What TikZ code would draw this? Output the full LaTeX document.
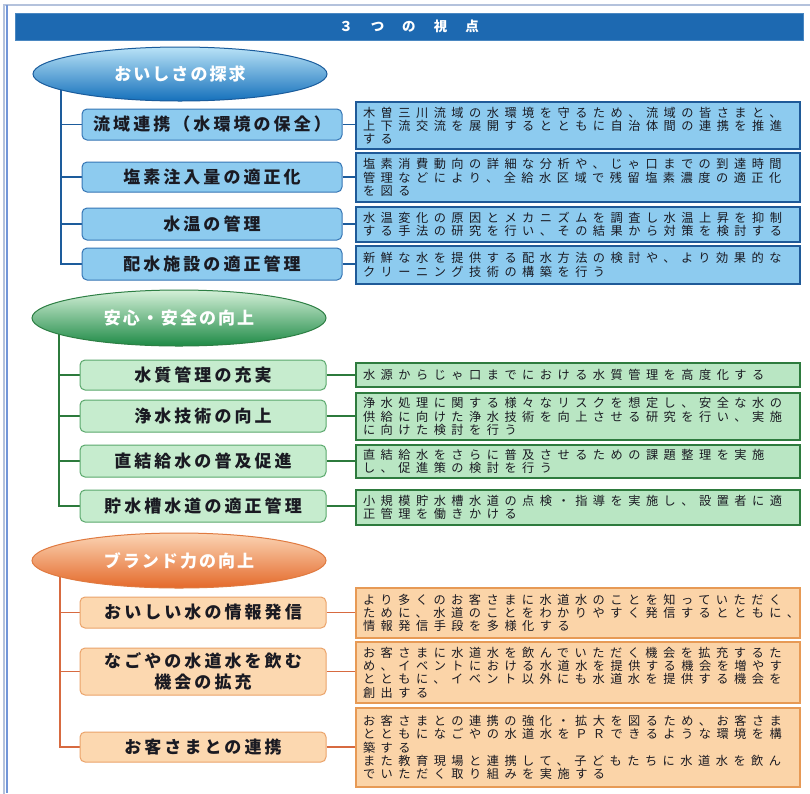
\documentclass[tikz,border=0pt]{standalone}
\usepackage{fontspec}
\usetikzlibrary{shapes.geometric}
\newfontfamily\jpR{Noto Sans CJK JP}[LetterSpace=45]
\newfontfamily\jpL{Noto Sans CJK JP}[LetterSpace=18]
\newfontfamily\jpE{Noto Sans CJK JP}[LetterSpace=12]
\newfontfamily\jpT{Noto Sans CJK JP}
\definecolor{titleblue}{HTML}{1D69B1}
\definecolor{framecol}{HTML}{B4C2DC}
\definecolor{frameleft}{HTML}{7296D8}
\definecolor{bEllTop}{HTML}{B9E3F7}
\definecolor{bEllMid}{HTML}{48A2DC}
\definecolor{bEllBot}{HTML}{1570BB}
\definecolor{bEllDraw}{HTML}{1A5C9C}
\definecolor{bBoxFill}{HTML}{8DCBEF}
\definecolor{bBoxDraw}{HTML}{3575B5}
\definecolor{bRDraw}{HTML}{1F5A98}
\definecolor{bCon}{HTML}{1D5C9C}
\definecolor{gEllTop}{HTML}{D4F0D8}
\definecolor{gEllMid}{HTML}{6CC083}
\definecolor{gEllBot}{HTML}{1E8A46}
\definecolor{gEllDraw}{HTML}{2D7F44}
\definecolor{gBoxFill}{HTML}{C6ECCE}
\definecolor{gBoxDraw}{HTML}{5AA86C}
\definecolor{gRFill}{HTML}{B9E6C3}
\definecolor{gRDraw}{HTML}{2E7B3E}
\definecolor{gCon}{HTML}{2C7A3C}
\definecolor{oEllTop}{HTML}{FBD5B5}
\definecolor{oEllMid}{HTML}{F2975F}
\definecolor{oEllBot}{HTML}{E4692A}
\definecolor{oEllDraw}{HTML}{E07A40}
\definecolor{oBoxFill}{HTML}{FCD8B0}
\definecolor{oBoxDraw}{HTML}{EBA36A}
\definecolor{oRFill}{HTML}{FBD4A8}
\definecolor{oRDraw}{HTML}{E79A55}
\definecolor{oCon}{HTML}{D76A40}
\definecolor{txt}{HTML}{1A1A22}
\pgfdeclarelayer{back}
\pgfdeclarelayer{bg}
\pgfsetlayers{back,bg,main}
\tikzset{
  ell/.style={ellipse, inner sep=0pt, minimum width=294pt, minimum height=54pt,
    text=white, font=\jpE\bfseries\fontsize{17}{20}\selectfont, line width=1pt},
  lbox/.style={rounded corners=5pt, inner sep=0pt, align=center,
    font=\jpL\bfseries\fontsize{17}{21}\selectfont, text=txt, line width=1pt},
  rbox/.style={inner xsep=7pt, inner ysep=0pt, text width=430pt, minimum width=444pt,
    align=left, font=\jpR\fontsize{12.2}{13.3}\selectfont, text=txt, line width=1.8pt},
  bell/.style={ell, draw=bEllDraw, top color=bEllTop, middle color=bEllMid, bottom color=bEllBot},
  gell/.style={ell, draw=gEllDraw, top color=gEllTop, middle color=gEllMid, bottom color=gEllBot},
  oell/.style={ell, draw=oEllDraw, top color=oEllTop, middle color=oEllMid, bottom color=oEllBot},
  blbox/.style={lbox, minimum width=260pt, fill=bBoxFill, draw=bBoxDraw},
  glbox/.style={lbox, minimum width=246pt, fill=gBoxFill, draw=gBoxDraw},
  olbox/.style={lbox, minimum width=246pt, fill=oBoxFill, draw=oBoxDraw},
  brbox/.style={rbox, fill=bBoxFill, draw=bRDraw},
  grbox/.style={rbox, fill=gRFill, draw=gRDraw},
  orbox/.style={rbox, fill=oRFill, draw=oRDraw},
  bcon/.style={draw=bCon, line width=1.6pt},
  gcon/.style={draw=gCon, line width=1.5pt},
  ocon/.style={draw=oCon, line width=1.1pt},
}
\begin{document}
\begin{tikzpicture}[x=1pt,y=-1pt]
\useasboundingbox (0,0) rectangle (810,793);
\begin{pgfonlayer}{back}
\fill[white] (0,0) rectangle (810,793);
\draw[framecol, line width=1.5pt] (4,5) rectangle (814,798);
\draw[frameleft, line width=2.5pt] (7,5) -- (7,793);
\end{pgfonlayer}
% title
\node[fill=titleblue, draw=titleblue!80!white, line width=0.8pt, minimum width=788pt, minimum height=27pt, inner sep=0pt,
  text=white, font=\jpT\bfseries\fontsize{13.5}{15}\selectfont] (title) at (409,26.5)
  {３\hspace{18pt}つ\hspace{18pt}の\hspace{18pt}視\hspace{18pt}点};

% ===== section 1 (blue)
\node[bell] (E1) at (180,74) {おいしさの探求\hspace{12pt}};
\node[blbox, minimum height=31pt] (B1) at (212,124.5) {流域連携（水環境の保全）};
\node[blbox, minimum height=30pt] (B2) at (212,177) {塩素注入量の適正化};
\node[blbox, minimum height=32pt] (B3) at (212,224) {水温の管理};
\node[blbox, minimum height=32pt] (B4) at (212,264) {配水施設の適正管理};
\node[brbox, minimum height=47pt] (R1) at (578,125.5) {木曽三川流域の水環境を守るため、流域の皆さまと、\\上下流交流を展開するとともに自治体間の連携を推進\\する};
\node[brbox, minimum height=49pt] (R2) at (578,177.5) {塩素消費動向の詳細な分析や、じゃ口までの到達時間\\管理などにより、全給水区域で残留塩素濃度の適正化\\を図る};
\node[brbox, minimum height=35pt] (R3) at (578,224.5) {水温変化の原因とメカニズムを調査し水温上昇を抑制\\する手法の研究を行い、その結果から対策を検討する};
\node[brbox, minimum height=38pt] (R4) at (578,265) {新鮮な水を提供する配水方法の検討や、より効果的な\\クリーニング技術の構築を行う};
\coordinate (t1) at (61,0);
\begin{pgfonlayer}{bg}
\draw[bcon] (E1.center -| t1) |- (B4.west);
\foreach \b in {B1,B2,B3} \draw[bcon] (\b.west -| t1) -- (\b.west);
\foreach \b/\r in {B1/R1,B2/R2,B3/R3,B4/R4} \draw[bcon] (\b.east) -- (\b.east -| \r.west);
\end{pgfonlayer}

% ===== section 2 (green)
\node[gell, minimum height=56pt] (E2) at (179,318) {安心・安全の向上\hspace{14pt}};
\node[glbox, minimum height=30pt] (G1) at (203,375) {水質管理の充実};
\node[glbox, minimum height=32pt] (G2) at (203,416) {浄水技術の向上};
\node[glbox, minimum height=32pt] (G3) at (203,461) {直結給水の普及促進};
\node[glbox, minimum height=32pt] (G4) at (203,506) {貯水槽水道の適正管理};
\node[grbox, minimum height=24pt] (S1) at (578,375) {水源からじゃ口までにおける水質管理を高度化する};
\node[grbox, minimum height=47pt] (S2) at (578,416.5) {浄水処理に関する様々なリスクを想定し、安全な水の\\供給に向けた浄水技術を向上させる研究を行い、実施\\に向けた検討を行う};
\node[grbox, minimum height=33pt] (S3) at (578,461.5) {直結給水をさらに普及させるための課題整理を実施\\し、促進策の検討を行う};
\node[grbox, minimum height=35pt] (S4) at (578,507.5) {小規模貯水槽水道の点検・指導を実施し、設置者に適\\正管理を働きかける};
\coordinate (t2) at (59,0);
\begin{pgfonlayer}{bg}
\draw[gcon] (E2.center -| t2) |- (G4.west);
\foreach \b in {G1,G2,G3} \draw[gcon] (\b.west -| t2) -- (\b.west);
\foreach \b/\r in {G1/S1,G2/S2,G3/S3,G4/S4} \draw[gcon] (\b.east) -- (\b.east -| \r.west);
\end{pgfonlayer}

% ===== section 3 (orange)
\node[oell, minimum height=55pt] (E3) at (179,560.5) {ブランド力の向上\hspace{14pt}};
\node[olbox, minimum height=31pt] (O1) at (203,612.5) {おいしい水の情報発信};
\node[olbox, minimum height=47pt] (O2) at (203,671.5) {なごやの水道水を飲む\\機会の拡充};
\node[olbox, minimum height=30pt] (O3) at (203,747) {お客さまとの連携};
\node[orbox, minimum height=50pt] (Q1) at (578,613) {より多くのお客さまに水道水のことを知っていただく\\ために、水道のことをわかりやすく発信するとともに、\\情報発信手段を多様化する};
\node[orbox, minimum height=61pt] (Q2) at (578,672.5) {お客さまに水道水を飲んでいただく機会を拡充するた\\め、イベントにおける水道水を提供する機会を増やす\\とともに、イベント以外にも水道水を提供する機会を\\創出する};
\node[orbox, minimum height=79pt] (Q3) at (578,747.5) {お客さまとの連携の強化・拡大を図るため、お客さま\\とともになごやの水道水をＰＲできるような環境を構\\築する\\また教育現場と連携して、子どもたちに水道水を飲ん\\でいただく取り組みを実施する};
\coordinate (t3) at (60,0);
\begin{pgfonlayer}{bg}
\draw[ocon] (E3.center -| t3) |- (O3.west);
\foreach \b in {O1,O2} \draw[ocon] (\b.west -| t3) -- (\b.west);
\foreach \b/\r in {O1/Q1,O2/Q2,O3/Q3} \draw[ocon] (\b.east) -- (\b.east -| \r.west);
\end{pgfonlayer}
\end{tikzpicture}
\end{document}
